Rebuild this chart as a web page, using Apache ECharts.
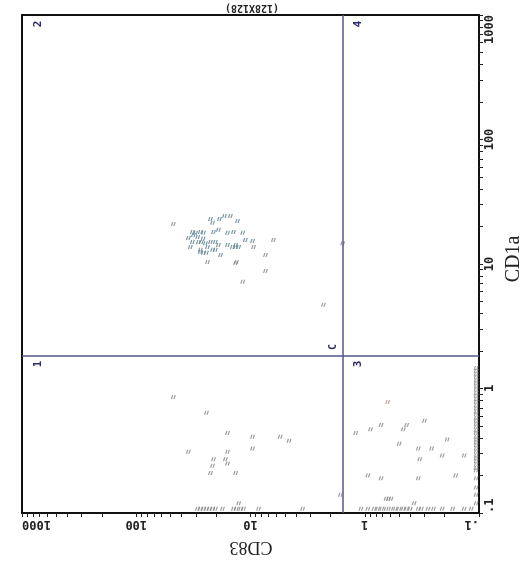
<!DOCTYPE html>
<html>
<head>
<meta charset="utf-8">
<script src="https://cdn.jsdelivr.net/npm/echarts@6/dist/echarts.min.js"></script>
<style>
html, body { margin: 0; padding: 0; background: #fff; }
#chart { width: 524px; height: 567px; }
</style>
</head>
<body>
<div id="chart"></div>
<script>
// axis ticks (decades + 2..9 minors)
var majorTicks = [0.1, 1, 10, 100, 1000];
var minorTicks = [0.2, 0.3, 0.4, 0.5, 0.6, 0.7, 0.8, 0.9,
  2, 3, 4, 5, 6, 7, 8, 9,
  20, 30, 40, 50, 60, 70, 80, 90,
  200, 300, 400, 500, 600, 700, 800, 900];

// quadrant gates
var gateCD83 = 1.55;
var gateCD1a = 1.82;

// [CD83, CD1a]
var clusterPts = [
  [22.4, 23.0], [21.5, 21.4], [18.7, 23.0], [16.9, 24.3], [15.0, 24.3], [13.0, 22.2],
  [32.3, 18.1], [31.6, 17.1], [30.3, 17.8], [27.5, 18.1], [25.8, 17.8], [21.1, 18.1],
  [19.1, 18.8], [15.9, 17.8], [14.1, 18.1], [11.7, 17.8], [35.0, 16.2], [32.3, 15.0],
  [28.6, 15.0], [26.9, 15.0], [24.8, 14.7], [22.4, 15.0], [20.3, 15.0], [19.1, 14.2],
  [33.6, 13.7], [27.5, 13.0], [23.8, 13.7], [20.3, 13.0], [21.5, 13.0], [15.9, 14.2],
  [14.4, 13.7], [13.5, 13.7], [12.7, 13.7], [11.1, 15.6], [9.6, 15.3], [27.5, 12.5],
  [25.8, 12.3], [24.3, 12.3], [18.3, 11.8], [13.5, 14.2], [29.0, 16.5], [26.0, 16.0]
];
var scatterPts = [
  [47.4, 21.0], [23.8, 10.4], [13.3, 10.4], [9.4, 13.7], [6.3, 15.6], [7.4, 11.8],
  [13.5, 10.2], [7.4, 8.8], [11.7, 7.2], [2.3, 4.7], [1.56, 14.7],
  // quadrant 1
  [47.4, 0.855], [24.3, 0.64], [15.9, 0.44], [9.6, 0.41], [9.6, 0.33], [5.5, 0.41],
  [4.6, 0.38], [35.0, 0.31], [15.9, 0.31], [21.1, 0.27], [21.5, 0.24], [22.4, 0.21],
  [16.6, 0.27], [15.9, 0.25], [13.5, 0.21], [12.7, 0.12],
  // quadrant 3
  [1.20, 0.44], [0.89, 0.47], [0.72, 0.51], [0.46, 0.47], [0.43, 0.51], [0.30, 0.55],
  [0.50, 0.36], [0.34, 0.33], [0.26, 0.33], [0.19, 0.39], [0.33, 0.27], [0.21, 0.29],
  [0.135, 0.29], [0.94, 0.20], [0.72, 0.19], [0.34, 0.19], [0.16, 0.20], [0.62, 0.13],
  [0.65, 0.13], [0.59, 0.13], [0.37, 0.12], [1.63, 0.14]
];
var pinkPts = [[0.63, 0.78]];

// events piled on the CD1a floor (CD1a ~ .108)
var floorCD83 = [29.2, 27.5, 25.8, 24.3, 22.9, 21.5, 20.3, 17.6, 14.1, 13.3, 12.2, 11.5, 8.5, 3.5,
  1.08, 0.94, 0.83, 0.77, 0.71, 0.65, 0.59, 0.54, 0.50, 0.46, 0.43, 0.40, 0.34, 0.32,
  0.28, 0.25, 0.21, 0.17, 0.135, 0.117];
var floorCD1a = 0.108;

// events piled on the CD83 floor (CD83 ~ .106)
var edgeCD1a = [1.46, 1.38, 1.30, 1.23, 1.16, 1.10, 1.04, 0.98, 0.92, 0.87, 0.82, 0.78,
  0.73, 0.69, 0.65, 0.62, 0.58, 0.55, 0.52, 0.49, 0.46, 0.44, 0.41, 0.39, 0.37, 0.35,
  0.33, 0.31, 0.29, 0.275, 0.26, 0.245, 0.23, 0.22, 0.19, 0.16, 0.14, 0.12];
var edgeCD83 = 0.106;

var floorPts = floorCD83.map(function (v) { return [v, floorCD1a]; });
var edgePts = edgeCD1a.map(function (v) { return [edgeCD83, v]; });

var allTicks = majorTicks.concat(minorTicks);
var dotPath = 'path://M1,0L2,0L1,4L0,4Z M3,0L4,0L3,4L2,4Z';
var monoFont = 'DejaVu Sans Mono';

function tickFmt(v) {
  var r = Math.round(v * 10) / 10;
  return r < 1 ? '.1' : String(Math.round(r));
}

var chart = echarts.init(document.getElementById('chart'));

var option = {
  animation: false,
  backgroundColor: '#fff',
  grid: {
    left: 22, right: 45, top: 15, bottom: 54,
    show: true, borderColor: '#111', borderWidth: 2
  },
  xAxis: {
    type: 'log', logBase: 10, min: 0.1, max: 1000, inverse: true,
    position: 'bottom',
    axisLine: { show: true, lineStyle: { color: '#111', width: 2 } },
    axisTick: { show: true, length: 4, customValues: allTicks, lineStyle: { color: '#222', width: 1 } },
    axisLabel: {
      rotate: 180, margin: 5, formatter: tickFmt,
      fontFamily: monoFont, fontWeight: 'bold', fontSize: 12, color: '#222',
      alignMinLabel: 'left', alignMaxLabel: 'right'
    },
    splitLine: { show: false }
  },
  yAxis: {
    type: 'log', logBase: 10, min: 0.1, max: 1000,
    position: 'right',
    axisLine: { show: true, lineStyle: { color: '#111', width: 2 } },
    axisTick: { show: true, length: 4, customValues: allTicks, lineStyle: { color: '#222', width: 1 } },
    axisLabel: {
      rotate: 90, margin: 5, formatter: tickFmt,
      fontFamily: monoFont, fontWeight: 'bold', fontSize: 12, color: '#222',
      alignMinLabel: 'left', alignMaxLabel: 'right'
    },
    splitLine: { show: false }
  },
  graphic: [
    { type: 'text', x: 252, y: 8, rotation: Math.PI,
      style: { text: '(128X128)', font: 'bold 10px "DejaVu Sans Mono"', fill: '#222', align: 'center', verticalAlign: 'middle' } },
    { type: 'text', x: 251, y: 547, rotation: Math.PI,
      style: { text: 'CD83', font: '18px "Liberation Serif"', fill: '#222', align: 'center', verticalAlign: 'middle' } },
    { type: 'text', x: 514, y: 259, rotation: Math.PI / 2,
      style: { text: 'CD1a', font: '20px "Liberation Serif"', fill: '#222', align: 'center', verticalAlign: 'middle' } },
    { type: 'text', x: 38, y: 24, rotation: Math.PI / 2,
      style: { text: '2', font: 'bold 11px "DejaVu Sans Mono"', fill: '#2c2c6c', align: 'center', verticalAlign: 'middle' } },
    { type: 'text', x: 358, y: 24, rotation: Math.PI / 2,
      style: { text: '4', font: 'bold 11px "DejaVu Sans Mono"', fill: '#2c2c6c', align: 'center', verticalAlign: 'middle' } },
    { type: 'text', x: 38, y: 364, rotation: Math.PI / 2,
      style: { text: '1', font: 'bold 11px "DejaVu Sans Mono"', fill: '#2c2c6c', align: 'center', verticalAlign: 'middle' } },
    { type: 'text', x: 358, y: 364, rotation: Math.PI / 2,
      style: { text: '3', font: 'bold 11px "DejaVu Sans Mono"', fill: '#2c2c6c', align: 'center', verticalAlign: 'middle' } },
    { type: 'text', x: 333, y: 347, rotation: Math.PI / 2,
      style: { text: 'C', font: 'bold 10px "DejaVu Sans Mono"', fill: '#2c2c6c', align: 'center', verticalAlign: 'middle' } }
  ],
  series: [
    {
      type: 'scatter', name: 'scatter', data: scatterPts.concat(floorPts, edgePts),
      symbol: dotPath, symbolSize: [5, 4],
      itemStyle: { color: '#8c8c8c', opacity: 0.85 },
      markLine: {
        silent: true, symbol: 'none', label: { show: false },
        lineStyle: { color: '#56568a', width: 1.5, type: 'solid' },
        data: [{ xAxis: gateCD83 }, { yAxis: gateCD1a }]
      }
    },
    {
      type: 'scatter', name: 'cluster', data: clusterPts,
      symbol: dotPath, symbolSize: [5, 4],
      itemStyle: { color: '#6e8d9b', opacity: 0.9 }
    },
    {
      type: 'scatter', name: 'pink', data: pinkPts,
      symbol: dotPath, symbolSize: [5, 4],
      itemStyle: { color: '#b98c8c' }
    }
  ]
};

chart.setOption(option);
</script>
</body>
</html>
